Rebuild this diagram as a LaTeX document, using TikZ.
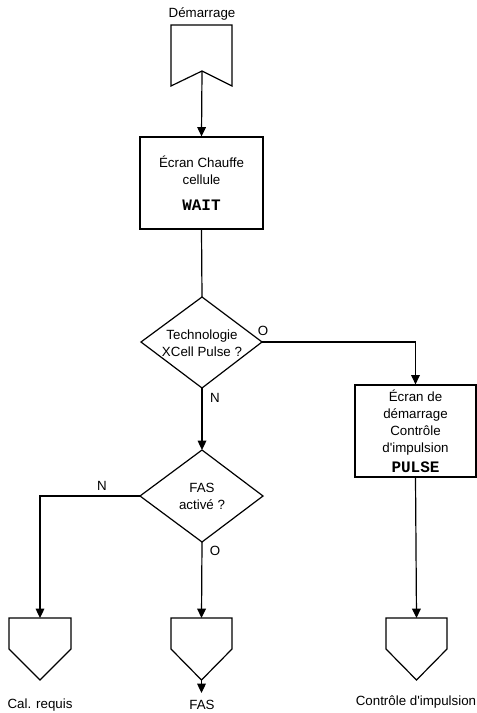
\documentclass[tikz,border=0pt]{standalone}
\usepackage{fontspec}
\setmainfont{Liberation Sans}[Ligatures=TeXOff]
\newfontfamily\codefont{Liberation Mono}
\usetikzlibrary{arrows.meta}
\tikzset{
  outline/.style={draw=black, line width=0.9pt, line join=miter},
  flow/.style={draw=black, line width=0.9pt, -{Triangle[length=7pt,width=6.5pt]}},
  plain/.style={draw=black, line width=0.9pt},
  txt/.style={font=\fontsize{10}{12.75}\selectfont, align=center, inner sep=0pt},
  lbl/.style={font=\fontsize{10}{12}\selectfont, inner sep=0pt},
  screen/.style={outline, rectangle, inner sep=0pt, align=center,
    font=\fontsize{10}{12.75}\selectfont},
  code/.style={font=\codefont\bfseries\fontsize{12}{14}\selectfont}
}
\begin{document}
\begin{tikzpicture}[x=0.75pt,y=-0.75pt]
  \useasboundingbox (0,0) rectangle (476,713);

  % start symbol
  \node[txt] (startlbl) at (202,14) {Démarrage};
  \draw[outline] (171,25) -- (232,25) -- (232,86) -- (202,71) coordinate (startpt) -- (171,86) -- cycle;

  % warm-up screen
  \node[screen, minimum width=123pt*0.75, minimum height=92pt*0.75] (wait) at (201.5,183)
    {Écran Chauffe\\cellule\\[7pt]{\codefont\bfseries\fontsize{12}{14}\selectfont WAIT}};

  % first decision
  \coordinate (q1t) at (202,297);
  \coordinate (q1r) at (262,342);
  \coordinate (q1b) at (202,388);
  \coordinate (q1l) at (141,342);
  \draw[outline] (q1t) -- (q1r) -- (q1b) -- (q1l) -- cycle;
  \node[txt] (q1) at (202,343) {Technologie\\XCell Pulse ?};

  % pulse screen
  \node[screen, minimum width=121pt*0.75, minimum height=92pt*0.75] (pulse) at (415.5,431)
    {Écran de\\démarrage\\Contrôle\\d'impulsion\\[2pt]{\codefont\bfseries\fontsize{12}{14}\selectfont PULSE}};

  % second decision
  \coordinate (q2t) at (202,450);
  \coordinate (q2r) at (263,496);
  \coordinate (q2b) at (202,542);
  \coordinate (q2l) at (140,496);
  \draw[outline] (q2t) -- (q2r) -- (q2b) -- (q2l) -- cycle;
  \node[txt] (q2) at (202,496) {FAS\\activé ?};

  % end symbols
  \draw[outline] (9,618) -- (71,618) -- (71,649) -- (40,680) coordinate (e1pt) -- (9,649) -- cycle;
  \coordinate (e1top) at (40,618);
  \draw[outline] (171,618) -- (232,618) -- (232,649) -- (201.5,680) coordinate (e2pt) -- (171,649) -- cycle;
  \coordinate (e2top) at (201.5,618);
  \draw[outline] (386,618) -- (447,618) -- (447,649) -- (416.5,680) coordinate (e3pt) -- (386,649) -- cycle;
  \coordinate (e3top) at (416.5,618);
  \coordinate (e2out) at (201.5,693);

  \node[txt] (e1lbl) at (40,705) {Cal. requis};
  \node[txt] (e2lbl) at (202,705) {FAS};
  \node[txt] (e3lbl) at (416,702) {Contrôle d'impulsion};

  % connectors
  \draw[flow] (startpt) -- (wait.north);
  \draw[plain] (wait.south) -- (q1t);
  \draw[flow] (q1r) -| (pulse.north);
  \draw[flow] (q1b) -- (q2t);
  \draw[flow] (q2l) -| (e1top);
  \draw[flow] (q2b) -- (e2top);
  \draw[flow] (pulse.south) -- (e3top);
  \draw[flow] (e2pt) -- (e2out);

  % branch labels
  \node[lbl] (o1) at (263,331) {O};
  \node[lbl] (n1) at (215,398) {N};
  \node[lbl] (n2) at (102,486) {N};
  \node[lbl] (o2) at (215,551) {O};
\end{tikzpicture}
\end{document}
